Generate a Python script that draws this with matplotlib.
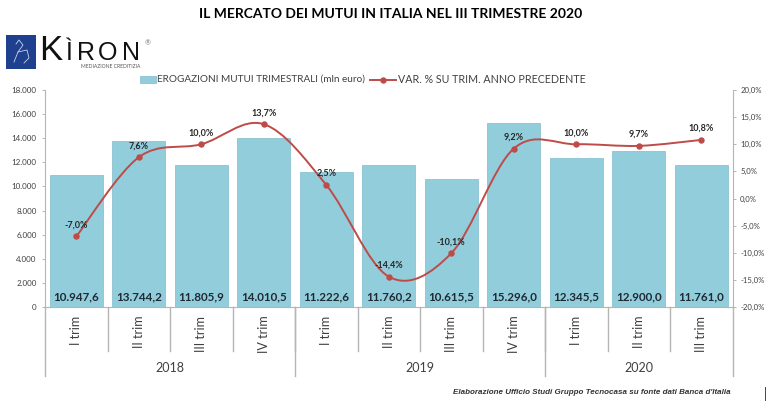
import numpy as np
import matplotlib
matplotlib.use("Agg")
import matplotlib.pyplot as plt
from matplotlib.patches import PathPatch, Rectangle
from matplotlib.path import Path

plt.rcParams['font.family'] = ['Lato', 'DejaVu Sans']

# -----------------------------
# DATA
# -----------------------------
quarters = ["I trim", "II trim", "III trim", "IV trim", "I trim", "II trim",
            "III trim", "IV trim", "I trim", "II trim", "III trim"]
years = ["2018", "2019", "2020"]
year_counts = [4, 4, 3]
erogazioni = [10947.6, 13744.2, 11805.9, 14010.5, 11222.6, 11760.2,
              10615.5, 15296.0, 12345.5, 12900.0, 11761.0]
var_pct = [-7.0, 7.6, 10.0, 13.7, 2.5, -14.4, -10.1, 9.2, 10.0, 9.7, 10.8]
left_ticks = [0, 2000, 4000, 6000, 8000, 10000, 12000, 14000, 16000, 18000]
right_ticks = [-20, -15, -10, -5, 0, 5, 10, 15, 20]

BAR_COLOR = "#92CDDC"
BAR_EDGE = "#7FBBCB"
LINE_COLOR = "#BE4B48"
GRAY = "#B5B5B5"
TEXT = "#404040"
W, H = 768, 409


def it_num(v, dec=1):
    s = f"{v:,.{dec}f}"
    return s.replace(",", "X").replace(".", ",").replace("X", ".")


# -----------------------------
# AXES
# -----------------------------
fig = plt.figure(figsize=(W / 100, H / 100), dpi=100)
ax_l, ax_r, ax_t, ax_b = 45, 732.5, 90, 307
ax = fig.add_axes([ax_l / W, 1 - ax_b / H, (ax_r - ax_l) / W, (ax_b - ax_t) / H])
x = np.arange(len(erogazioni))

ax.bar(x, erogazioni, width=0.85, color=BAR_COLOR, edgecolor=BAR_EDGE, linewidth=0.5, zorder=2)
ax.set_xlim(-0.5, len(x) - 0.5)
ax.set_ylim(0, 18000)
ax.set_yticks(left_ticks)
ax.set_yticklabels([it_num(t, 0) for t in left_ticks], fontsize=5.8, color=TEXT)
ax.set_xticks([])
ax.tick_params(axis='y', length=2.5, width=0.7, color=GRAY, pad=3.5)
for side in ['top', 'right']:
    ax.spines[side].set_visible(False)
for side in ['left', 'bottom']:
    ax.spines[side].set_color(GRAY)

for xi, v in zip(x, erogazioni):
    ax.text(xi, 830, it_num(v), ha='center', va='center', fontsize=8.4,
            fontweight='bold', color="#1F2A33", zorder=5)

# line on the secondary axis, smoothed like the Excel original
ax2 = ax.twinx()
ax2.set_ylim(-20, 20)
ax2.set_yticks(right_ticks)
ax2.set_yticklabels([f"{t},0%" for t in right_ticks], fontsize=5.6, color=TEXT)
ax2.tick_params(axis='y', length=2.5, width=0.7, color=GRAY, pad=3)
for side in ['top', 'left', 'bottom']:
    ax2.spines[side].set_visible(False)
ax2.spines['right'].set_color(GRAY)

pts = np.column_stack([x, var_pct])
verts = [pts[0]]
codes = [Path.MOVETO]
for i in range(len(pts) - 1):
    prev_p = pts[max(i - 1, 0)]
    next_p = pts[min(i + 2, len(pts) - 1)]
    verts += [pts[i] + (pts[i + 1] - prev_p) / 6, pts[i + 1] - (next_p - pts[i]) / 6, pts[i + 1]]
    codes += [Path.CURVE4] * 3
ax2.add_patch(PathPatch(Path(verts, codes), fill=False, edgecolor=LINE_COLOR, linewidth=1.4, zorder=3))
ax2.plot(x, var_pct, ls='none', marker='o', ms=3.6, color=LINE_COLOR, zorder=4)

for xi, v in zip(x, var_pct):
    ax2.annotate(f"{v:.1f}%".replace(".", ","), (xi, v), xytext=(0, 5), textcoords='offset points',
                 ha='center', va='bottom', fontsize=6.5, fontweight='bold', color="#262626", zorder=6)

# -----------------------------
# CATEGORY AXIS (two levels, drawn below the plot)
# -----------------------------
trans = ax.get_xaxis_transform()
short_y = -(351 - ax_b) / (ax_b - ax_t)
long_y = -(376 - ax_b) / (ax_b - ax_t)
for i, q in enumerate(quarters):
    ax.text(i, -(315.5 - ax_b) / (ax_b - ax_t), q, transform=trans, rotation=90,
            ha='center', va='top', fontsize=9, color=TEXT)
    if i > 0:
        ax.plot([i - 0.5, i - 0.5], [0, short_y], transform=trans, color=GRAY, lw=1, clip_on=False)

start = 0
ax.plot([-0.5, -0.5], [0, long_y], transform=trans, color=GRAY, lw=1, clip_on=False)
for year, n in zip(years, year_counts):
    end = start + n
    ax.text(start + n / 2 - 0.5, -(368.5 - ax_b) / (ax_b - ax_t), year, transform=trans,
            ha='center', va='center', fontsize=9, color=TEXT)
    ax.plot([end - 0.5, end - 0.5], [0, long_y], transform=trans, color=GRAY, lw=1, clip_on=False)
    start = end

# -----------------------------
# TITLE, LEGEND, LOGO, SOURCE
# -----------------------------
fig.text(390.5 / W, 1 - 14 / H, "IL MERCATO DEI MUTUI IN ITALIA NEL III TRIMESTRE 2020",
         ha='center', va='center', fontsize=10, fontweight='bold', color="black")

fig.add_artist(Rectangle((140 / W, 1 - 83 / H), 16 / W, 7 / H, transform=fig.transFigure,
                         facecolor=BAR_COLOR, edgecolor=BAR_EDGE, linewidth=0.5))
fig.text(157 / W, 1 - 79.5 / H, "EROGAZIONI MUTUI TRIMESTRALI (mln euro)", ha='left', va='center',
         fontsize=7.2, color=TEXT)
fig.add_artist(plt.Line2D([370 / W, 396 / W], [1 - 79.5 / H] * 2, color=LINE_COLOR, lw=1.4,
                          transform=fig.transFigure))
fig.add_artist(plt.Line2D([383 / W], [1 - 79.5 / H], color=LINE_COLOR, marker='o', ms=3.6,
                          transform=fig.transFigure))
fig.text(398.5 / W, 1 - 79.5 / H, "VAR. % SU TRIM. ANNO PRECEDENTE", ha='left', va='center',
         fontsize=7.7, color=TEXT)

# logo: blue square with a white sketch, then the spaced lettering
fig.add_artist(Rectangle((6 / W, 1 - 69 / H), 29.5 / W, 34 / H, transform=fig.transFigure,
                         facecolor="#1F3F8F", edgecolor='none'))
for sx, sy in [([14, 18, 23, 19, 16], [62, 52, 45, 40, 44]), ([18, 27, 29, 24], [52, 50, 58, 63])]:
    fig.add_artist(plt.Line2D([v / W for v in sx], [1 - v / H for v in sy], color="#C9D3EA", lw=0.6,
                              transform=fig.transFigure))
logo_fam = ['Liberation Sans', 'DejaVu Sans']
fig.text(39 / W, 1 - 59.5 / H, "K", ha='left', va='baseline', fontsize=25, color="#111111", family=logo_fam)
for letter, lx in zip("ÌRON", [66, 77, 98, 122]):
    fig.text(lx / W, 1 - 59.5 / H, letter, ha='left', va='baseline', fontsize=18, color="#111111", family=logo_fam)
fig.text(81 / W, 1 - 66.5 / H, "MEDIAZIONE CREDITIZIA", ha='left', va='center', fontsize=3.6, color="#555555")
fig.text(145 / W, 1 - 42.5 / H, "®", ha='left', va='center', fontsize=5, color="#777777")

fig.text(591.5 / W, 1 - 393 / H, "Elaborazione Ufficio Studi Gruppo Tecnocasa su fonte dati Banca d'Italia",
         ha='center', va='center', fontsize=5.8, fontweight='bold', style='italic', color="#333333",
         family=['Liberation Sans', 'DejaVu Sans'])

# thin dark mark at the lower right edge of the screenshot
fig.add_artist(plt.Line2D([765 / W, 765 / W], [1 - 387 / H, 1 - 400 / H], color="#444444", lw=0.7,
                          transform=fig.transFigure))

fig.savefig("out.png", dpi=100)
